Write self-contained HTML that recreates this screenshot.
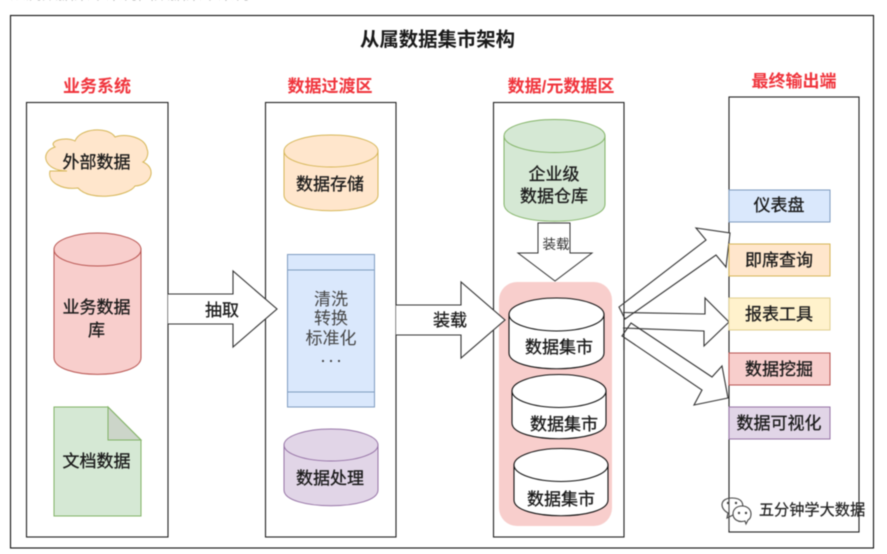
<!DOCTYPE html>
<html lang="zh">
<head>
<meta charset="utf-8">
<title>从属数据集市架构</title>
<style>
html,body{margin:0;padding:0;background:#fff;width:887px;height:554px;overflow:hidden}
svg{display:block;filter:blur(.4px)}
text{font-family:"Liberation Sans","Noto Sans CJK SC",sans-serif;text-anchor:middle;fill:#1a1a1a;font-size:17px}
.h{fill:#f0343c;font-weight:700;font-size:17px}
.b{stroke:#1a1a1a;stroke-width:.3px}
.t{fill:#444;font-size:17px}
</style>
</head>
<body>
<svg width="887" height="554" viewBox="0 0 887 554" xmlns="http://www.w3.org/2000/svg">
<text x="130" y="-1" style="font-size:16px;fill:#888">从属数据集市架构图数据集市架构</text>

<rect x="10.5" y="15.5" width="863" height="532.5" fill="#fff" stroke="#111" stroke-width="1.1"/>
<text x="437.500" y="46" style="font-size:19.400px;font-weight:700">从属数据集市架构</text>

<text class="h" x="97" y="92">业务系统</text>
<text class="h" x="330" y="92">数据过渡区</text>
<text class="h" x="561" y="92">数据/元数据区</text>
<text class="h" x="794" y="87">最终输出端</text>

<g fill="#fff" stroke="#222" stroke-width="1.1">
<rect x="26.5" y="102.5" width="141.5" height="434.5"/>
<rect x="265.5" y="102.5" width="130.5" height="434.5"/>
<rect x="493.5" y="102.5" width="130.5" height="434.5"/>
<rect x="729" y="97" width="130" height="435"/>
</g>

<!-- Column 1 -->
<path d="M67 171C44 171 39 152 55 147C47 141 66 136 75 141C80 128 108 126 115 137C125 133 145 137 147 149C149 153 147 160 143 162C157 168 152 185 135 186C129 196 90 202 78 188C63 190 47 183 50 171Z" fill="#ffe6cc" stroke="#d6b656" stroke-width="1"/>
<text class="b" x="96.500" y="168">外部数据</text>

<path d="M54 249.500V357.500C54 380 141 380 141 357.500V249.500Z" fill="#f8cecc" stroke="#b85450" stroke-width="1"/>
<ellipse cx="97.500" cy="249.500" rx="43.500" ry="16.500" fill="#f8cecc" stroke="#b85450" stroke-width="1"/>
<text class="b" x="96.500" y="313">业务数据</text>
<text class="b" x="96.500" y="336">库</text>

<path d="M54 407H108L141 440V516H54Z" fill="#d5e8d4" stroke="#82b366" stroke-width="1"/>
<path d="M108 407V440H141Z" fill="#ccd5c9" stroke="#82b366" stroke-width="1"/>
<text class="b" x="96.500" y="467">文档数据</text>

<!-- Arrow 抽取 -->
<path d="M168 294H233V271L277 309L233 347V324H168" fill="#fff" stroke="#333" stroke-width="1.1"/>
<text class="b" x="222" y="316">抽取</text>

<!-- Column 2 -->
<path d="M284 151V195C284 216 378 216 378 195V151Z" fill="#ffe6cc" stroke="#d6b656" stroke-width="1"/>
<ellipse cx="331" cy="151" rx="47" ry="16" fill="#ffe6cc" stroke="#d6b656" stroke-width="1"/>
<text class="b" x="330" y="190">数据存储</text>

<rect x="287.500" y="254.500" width="87" height="152.500" fill="#dae8fc" stroke="#7f9cc0" stroke-width="1"/>
<path d="M287.500 270H374.500M287.500 392H374.500" stroke="#7f9cc0" stroke-width="1" fill="none"/>
<text class="t" x="331" y="305">清洗</text>
<text class="t" x="331" y="324">转换</text>
<text class="t" x="331" y="344">标准化</text>
<g fill="#444"><circle cx="323" cy="361" r="1.100"/><circle cx="331" cy="361" r="1.100"/><circle cx="339" cy="361" r="1.100"/></g>

<path d="M284 445V490C284 511 378 511 378 490V445Z" fill="#e1d5e7" stroke="#9673a6" stroke-width="1"/>
<ellipse cx="331" cy="445" rx="47" ry="16" fill="#e1d5e7" stroke="#9673a6" stroke-width="1"/>
<text class="b" x="330" y="484">数据处理</text>

<!-- Column 3 -->
<path d="M504 136V204C504 227 605 227 605 204V136Z" fill="#d5e8d4" stroke="#82b366" stroke-width="1"/>
<ellipse cx="554.500" cy="136" rx="50.500" ry="16.500" fill="#d5e8d4" stroke="#82b366" stroke-width="1"/>
<text class="b" x="554" y="180">企业级</text>
<text class="b" x="554" y="202">数据仓库</text>

<rect x="499" y="282" width="113" height="244" rx="18" ry="18" fill="#f8cecc"/>

<path d="M538 223H570V253H592L555 281L518 253H538Z" fill="#fff" stroke="#333" stroke-width="1"/>
<text x="556" y="249" style="font-size:13.500px;fill:#333">装载</text>

<!-- Arrow 装载 -->
<path d="M396 305H461V282L505 320L461 358V335H396" fill="#fff" stroke="#333" stroke-width="1.1"/>
<text class="b" x="450" y="326">装载</text>

<g fill="#fff" stroke="#111" stroke-width="1.1">
<path d="M509 314.500V353C509 374 604 374 604 353V314.500Z"/>
<ellipse cx="556.500" cy="314.500" rx="47.500" ry="16.500"/>
<path d="M512 391V423C512 444 606 444 606 423V391Z"/>
<ellipse cx="559" cy="391" rx="47" ry="16.500"/>
<path d="M514 465V500C514 521 608 521 608 500V465Z"/>
<ellipse cx="561" cy="465" rx="47" ry="16.500"/>
</g>
<text class="b" x="559" y="353">数据集市</text>
<text class="b" x="564" y="430">数据集市</text>
<text class="b" x="561" y="505">数据集市</text>

<!-- Output arrows: white fills first, then every outline so overlaps stay visible -->
<g fill="#fff" stroke="none">
<path d="M619 307L706 240L696 228L730 233L726 267L716 255L625 319Z"/>
<path d="M623 312L705 314V298L729 322L704 346V331L623 328Z"/>
<path d="M631 323L712 377L722 366L728 398L694 405L702 390L622 336Z"/>
</g>
<path d="M624 290V350" stroke="#222" stroke-width="1.1" fill="none"/>
<g fill="none" stroke="#333" stroke-width="1.1">
<path d="M619 307L706 240L696 228L730 233L726 267L716 255L625 319Z"/>
<path d="M623 312.500L705 314V298L729 322L704 346V331L623 328"/>
<path d="M631 323L712 377L722 366L728 398L694 405L702 390L622 336Z"/>
</g>

<!-- Outputs -->
<rect x="729" y="190" width="101" height="32" fill="#dae8fc" stroke="#7f9cc0" stroke-width="1"/>
<text class="b" x="779" y="211">仪表盘</text>
<rect x="729" y="244" width="101" height="32" fill="#ffe6cc" stroke="#d6b656" stroke-width="1"/>
<text class="b" x="779" y="266">即席查询</text>
<rect x="729" y="298" width="101" height="32" fill="#fff2cc" stroke="#e0d090" stroke-width="1"/>
<text class="b" x="779" y="320">报表工具</text>
<rect x="729" y="353" width="101" height="32" fill="#f8cecc" stroke="#b85450" stroke-width="1"/>
<text class="b" x="779" y="375">数据挖掘</text>
<rect x="729" y="407" width="101" height="32" fill="#e1d5e7" stroke="#9673a6" stroke-width="1"/>
<text class="b" x="779" y="429">数据可视化</text>

<!-- Watermark -->
<g fill="#fff" stroke="#444" stroke-width="1.1">
<path d="M727 518L728 513C719 508 720 498 732 498C742 498 745 504 741 511L733 515Z"/>
<path d="M729 498V530" fill="none"/>
<path d="M746 524L745 521C738 523 733 519 733 514C733 509 737 506 742 506C748 506 751 510 751 514C751 517 750 519 748 520Z"/>
</g>
<g fill="#444">
<circle cx="728" cy="503" r="1.200"/><circle cx="736" cy="503" r="1.200"/>
<circle cx="739" cy="513" r="1.200"/><circle cx="746" cy="513" r="1.200"/>
</g>
<text x="812" y="515" style="font-size:15.200px;fill:#222;stroke:#222;stroke-width:.2px">五分钟学大数据</text>
</svg>
</body>
</html>
